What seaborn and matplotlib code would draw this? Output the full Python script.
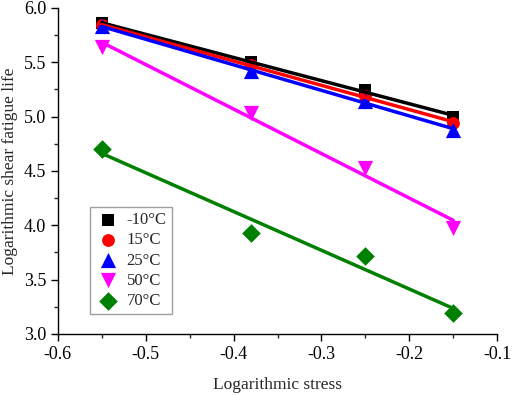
import matplotlib
matplotlib.use("Agg")
import matplotlib.pyplot as plt
import seaborn as sns
import numpy as np
from matplotlib.ticker import MultipleLocator, FormatStrFormatter

sns.set_style("ticks")
plt.rcParams['font.family'] = ['Liberation Serif', 'DejaVu Serif']

stress = [-0.55, -0.38, -0.25, -0.15]
labels = ["-10°C", "15°C", "25°C", "50°C", "70°C"]
life_m10 = [5.86, 5.50, 5.24, 5.00]
life_15 = [5.84, 5.47, 5.19, 4.94]
life_25 = [5.83, 5.42, 5.14, 4.88]
life_50 = [5.64, 5.03, 4.53, 3.97]
life_70 = [4.70, 3.93, 3.72, 3.19]
series = [life_m10, life_15, life_25, life_50, life_70]
colors = ["#000000", "#FF0000", "#0000FF", "#FF00FF", "#008000"]
markers = ["s", "o", "^", "v", "D"]
sizes = [65, 85, 120, 120, 90]

fig = plt.figure(figsize=(5.12, 3.96), dpi=100)
ax = fig.add_axes([0.113, 0.157, 0.858, 0.823])

for lab, ys, c, m, s in zip(labels, series, colors, markers, sizes):
    sns.scatterplot(x=stress, y=ys, ax=ax, color=c, marker=m, s=s,
                    edgecolor=c, linewidth=0, label=lab, zorder=3)
    sns.regplot(x=np.array(stress), y=np.array(ys), ax=ax, scatter=False, ci=None,
                color=c, line_kws={"linewidth": 2.5, "zorder": 4})

ax.set_xlim(-0.6, -0.1)
ax.set_ylim(3.0, 6.0)
ax.xaxis.set_major_locator(MultipleLocator(0.1))
ax.xaxis.set_minor_locator(MultipleLocator(0.05))
ax.yaxis.set_major_locator(MultipleLocator(0.5))
ax.yaxis.set_minor_locator(MultipleLocator(0.25))
ax.xaxis.set_major_formatter(FormatStrFormatter('%.1f'))
ax.yaxis.set_major_formatter(FormatStrFormatter('%.1f'))
ax.tick_params(which='major', direction='out', length=5, width=1, labelsize=13, colors='black')
ax.tick_params(which='minor', direction='out', length=3, width=1)
for sp in ['top', 'right']:
    ax.spines[sp].set_visible(False)
for sp in ['left', 'bottom']:
    ax.spines[sp].set_linewidth(1)
    ax.spines[sp].set_color('black')

ax.set_xlabel("Logarithmic stress", fontsize=12.5, labelpad=10)
ax.set_ylabel("Logarithmic shear fatigue life", fontsize=12.5, labelpad=4)

leg = ax.legend(loc='lower left', bbox_to_anchor=(0.073, 0.061), borderaxespad=0,
                fontsize=12, frameon=True, fancybox=False, edgecolor='#888888',
                handletextpad=0.3, labelspacing=0.25, borderpad=0.3,
                handlelength=1.6)
leg.get_frame().set_linewidth(1)

fig.savefig("out.png", dpi=100)
